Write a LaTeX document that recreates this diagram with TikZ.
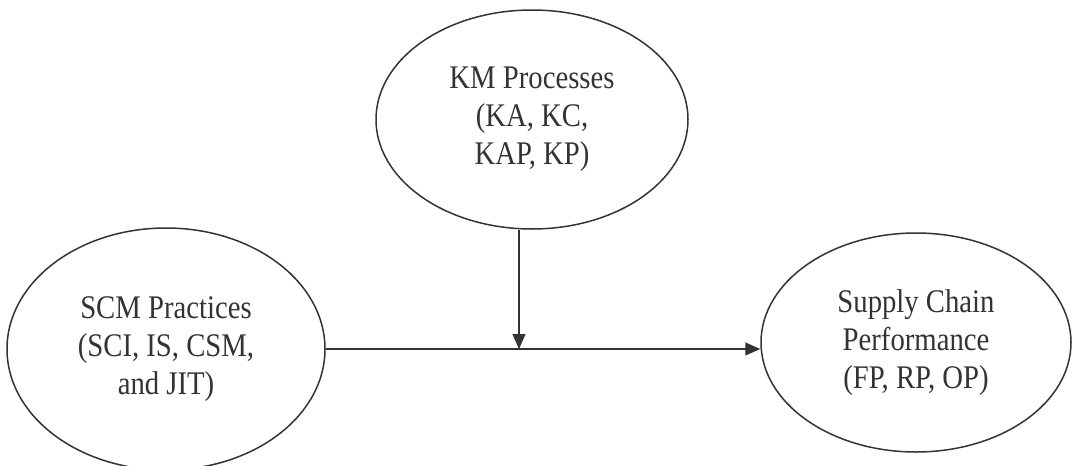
\documentclass[tikz,border=0pt]{standalone}
\usepackage{fontspec}
\setmainfont[FakeStretch=0.87]{Liberation Serif}
\usetikzlibrary{shapes.geometric,arrows.meta}
\begin{document}
\begin{tikzpicture}[x=1pt,y=-1pt,
  construct/.style={draw=black!80, ellipse, line width=1.5pt, inner sep=0pt,
    align=center, text=black!80, font=\fontsize{33}{38}\selectfont},
  link/.style={draw=black!80, line width=1.4pt,
    -{Triangle[length=15pt,width=13pt]}}]
\useasboundingbox (0,0) rectangle (1072,466);
% constructs
\node[construct, minimum width=312, minimum height=219] (km) at (532,119.5)
  {KM Processes\\(KA, KC,\\KAP, KP)};
\node[construct, minimum width=318, minimum height=242] (scm) at (166,349)
  {SCM Practices\\(SCI, IS, CSM,\\and JIT)};
\node[construct, minimum width=310, minimum height=219] (scp) at (916,342.5)
  {Supply Chain\\Performance\\(FP, RP, OP)};
% moderation point on the main path
\coordinate (mid) at (519,349);
% paths
\draw[link] (scm.east) -- (scm.east -| scp.west);
\draw[link] (km.south -| mid) -- (mid);
\end{tikzpicture}
\end{document}
